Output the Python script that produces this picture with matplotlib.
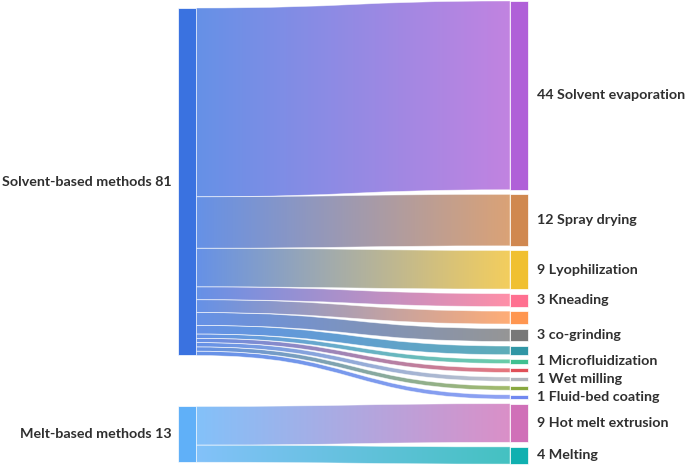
import numpy as np
import matplotlib.pyplot as plt
from matplotlib.path import Path
from matplotlib.patches import PathPatch, Rectangle
from matplotlib.colors import to_rgb

plt.rcParams['font.family'] = ['Lato', 'DejaVu Sans']

# Source nodes (left)
source_names = ['Solvent-based methods', 'Melt-based methods']
source_colors = ['#3a72e0', '#60b0f8']

# Target nodes (right), in drawing order; '' = node drawn without label
target_names = ['Solvent evaporation', 'Spray drying', 'Lyophilization', 'Kneading', '',
                'co-grinding', '', 'Microfluidization', '', 'Wet milling', '',
                'Fluid-bed coating', 'Hot melt extrusion', 'Melting']
target_values = [44, 12, 9, 3, 3, 3, 2, 1, 1, 1, 1, 1, 9, 4]
target_source = [0, 0, 0, 0, 0, 0, 0, 0, 0, 0, 0, 0, 1, 1]
target_colors = ['#b060d8', '#d08850', '#f0c030', '#ff7090', '#ff9650',
                 '#787878', '#3096a5', '#40c090', '#e05058', '#b0b4bc',
                 '#88a840', '#7088f0', '#d070b8', '#10b0b0']

source_values = [sum(v for v, s in zip(target_values, target_source) if s == i)
                 for i in range(len(source_names))]

# layout (pixels)
W, H = 685, 466
k = 4.29            # px per unit
left_x0, left_x1 = 178, 196
right_x0, right_x1 = 510, 528
left_top, left_gap = 8, 51
right_top, right_gap = 1, 4.6
link_alpha = 0.78
font_size = 10.3


def lighten(c, a=link_alpha):
    c = np.array(to_rgb(c))
    return a * c + (1 - a) * np.ones(3)


fig = plt.figure(figsize=(W / 100, H / 100), dpi=100)
ax = fig.add_axes([0, 0, 1, 1])

# node positions
src_pos = []
y = left_top
for v in source_values:
    src_pos.append((y, y + v * k))
    y += v * k + left_gap

tgt_pos = []
y = right_top
for v in target_values:
    tgt_pos.append((y, y + v * k))
    y += v * k + right_gap

# links
src_cursor = [p[0] for p in src_pos]
xm = (left_x1 + right_x0) / 2
for i, v in enumerate(target_values):
    s = target_source[i]
    sy0 = src_cursor[s]
    sy1 = sy0 + v * k
    src_cursor[s] = sy1
    ty0, ty1 = tgt_pos[i]
    verts = [(left_x1, sy0), (xm, sy0), (xm, ty0), (right_x0, ty0),
             (right_x0, ty1), (xm, ty1), (xm, sy1), (left_x1, sy1), (left_x1, sy0)]
    codes = [Path.MOVETO, Path.CURVE4, Path.CURVE4, Path.CURVE4,
             Path.LINETO, Path.CURVE4, Path.CURVE4, Path.CURVE4, Path.CLOSEPOLY]
    patch = PathPatch(Path(verts, codes), facecolor='none',
                      edgecolor=(1, 1, 1, 0.6), lw=0.5, zorder=3)
    ax.add_patch(patch)
    c0 = lighten(source_colors[s])
    c1 = lighten(target_colors[i])
    t = np.linspace(0, 1, 256)[:, None]
    grad = (c0 * (1 - t) + c1 * t)[None, :, :]
    im = ax.imshow(grad, extent=(left_x1, right_x0, H, 0), aspect='auto',
                   interpolation='bilinear', zorder=2)
    im.set_clip_path(patch)

# nodes + labels
for (y0, y1), name, v, c in zip(src_pos, source_names, source_values, source_colors):
    ax.add_patch(Rectangle((left_x0, y0), left_x1 - left_x0, y1 - y0,
                           facecolor=c, edgecolor='white', lw=0.5, zorder=4))
    ax.text(left_x0 - 6, (y0 + y1) / 2, f'{name} {v}', ha='right', va='center',
            fontsize=font_size, fontweight='bold', color='#2f2f2f')

for (y0, y1), name, v, c in zip(tgt_pos, target_names, target_values, target_colors):
    ax.add_patch(Rectangle((right_x0, y0), right_x1 - right_x0, y1 - y0,
                           facecolor=c, edgecolor='white', lw=0.5, zorder=4))
    if name:
        ax.text(right_x1 + 9, (y0 + y1) / 2, f'{v} {name}', ha='left', va='center',
                fontsize=font_size, fontweight='bold', color='#2f2f2f')

ax.set_xlim(0, W)
ax.set_ylim(H, 0)
ax.axis('off')
fig.savefig('out.png', dpi=100)
